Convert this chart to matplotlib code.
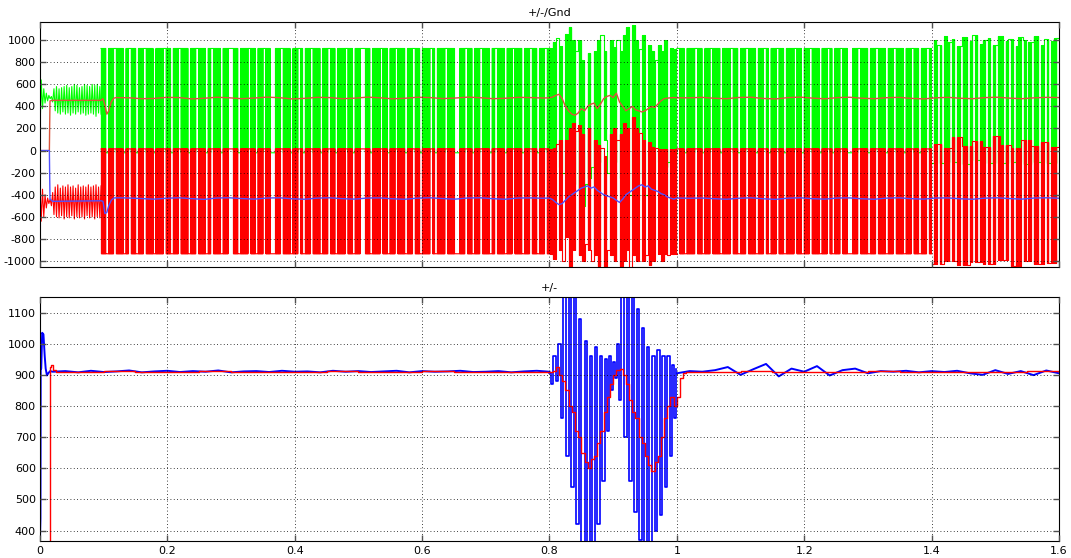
import numpy as np
import matplotlib
matplotlib.use('Agg')
import matplotlib.pyplot as plt

plt.rcParams['path.simplify'] = False
plt.rcParams['agg.path.chunksize'] = 20000
plt.rcParams['axes.unicode_minus'] = False

# ---------------- data ----------------
x_ticks = [0, 0.2, 0.4, 0.6, 0.8, 1.0, 1.2, 1.4, 1.6]
x_labels = ['0', '0.2', '0.4', '0.6', '0.8', '1', '1.2', '1.4', '1.6']
top_yticks = [-1000, -800, -600, -400, -200, 0, 200, 400, 600, 800, 1000]
bot_yticks = [400, 500, 600, 700, 800, 900, 1000, 1100]

# top panel, start-up (0 .. 0.096 s, one value every 2 ms)
start_green = [130, 640, 380, 560, 430, 520, 450, 500, 470, 490, 440, 560, 360, 580, 340, 560,
               330, 570, 350, 580, 330, 590, 340, 570, 320, 580, 340, 600, 330, 590, 350, 570,
               330, 580, 340, 600, 320, 590, 330, 580, 340, 600, 330, 590, 310, 600, 340, 580, 330]
start_red = [-300, -640, -350, -600, -400, -520, -430, -480, -440, -500, -380, -580, -330, -600,
             -310, -610, -340, -590, -320, -620, -330, -600, -310, -610, -330, -590, -320, -620,
             -340, -600, -310, -610, -330, -600, -320, -620, -330, -590, -310, -610, -330, -600,
             -320, -620, -310, -600, -330, -610, -320]

# switching pattern: '.' fast switching, 'g' held high, 'r' held low
pwm_a = ("..r..g...r.g..r..g.." ".r...g..r..g...r..g." "..r.g...r..gg..r...g"
         "..r..g..rr..g...r..g" ".r..g...r..g..r...g." ".r..gg..r...g..r..g."
         "..r..g..r...g.r...g." "..rr..g..r..g...r.g." "..r..g...r..g..r..g.")
pwm_b = ("g..r...g..r..g...r.." ".g..r..g...r..g.r..g" "..r...g..r..g...r..g"
         ".r..g..rr..g...r..g." "..r..g...r..g..r..g.")
pwm_c = "r.g.r..g.r.g..r.g.r..g.r.g..r.g.r..g.r.g..r.g.r..g"
pwm_chaos = "..g.r...g..r.r..g.r..g...r..g.r..g...r.."

# levels for each region
calm_g_hi, calm_g_lo, calm_r_hi, calm_r_lo = [925], [-20], [15], [-935]
chaos_g_hi = [930, 980, 1020, 950, 1100, 1060, 1120, 1000, 900, 1000, 820, 950, 880, 760, 900, 1000,
              1050, 900, 960, 1000, 940, 1000, 900, 1050, 1120, 1080, 1140, 1000, 920, 1050, 880, 960,
              900, 820, 960, 900, 1000, 950, 930, 920]
chaos_g_lo = [-20, -20, -80, -150, -200, -250, 0, -300, -400, -350, -500, -300, -250, -150, -300, -100,
              -50, 100, -200, -150, -100, -50, -250, -300, -350, -400, -300, -450, -350, -250, -400, -200,
              -200, -150, -100, -50, -150, -100, -50, -20]
chaos_r_hi = [15, 20, 60, 100, 150, 100, 200, 250, 180, 230, 150, 250, 200, 120, 100, 50,
              20, -50, 100, 150, 200, 100, 150, 250, 200, 150, 300, 200, 160, 100, 50, 80,
              30, 20, 15, 15, 15, 15, 15, 15]
chaos_r_lo = [-935, -980, -1040, -900, -1000, -780, -1050, -900, -1060, -950, -1000, -850,
              -900, -1000, -950, -1050, -940, -1060, -900, -950, -1000, -950, -1050, -1000,
              -900, -1060, -950, -1000, -1070, -1000, -950, -1040, -1000, -960, -935, -1000,
              -940, -950, -935, -935]
late_g_hi = [1000, 960, 1040, 980, 1010, 950, 1030, 990, 1050, 970, 1000, 1020, 960,
             1040, 990, 1010, 950, 1030, 1000, 980, 1040, 960, 1010, 990, 1020]
late_g_lo = [-110, -100, -120, -90, -110, -115, -100, -120, -105, -110]
late_r_hi = [60, 20, 120, 40, 90, 30, 130, 50, 20, 100, 40, 80, 30]
late_r_lo = [-1030, -1000, -1040, -1010, -1025, -990, -1045, -1005, -1030, -1015]

# averaged lines (top panel)
avg_t_start = [0, 0.0148, 0.0152, 0.0158, 0.02, 0.096, 0.099, 0.102, 0.105, 0.108, 0.112, 0.116]
avg_red_start = [0, 0, 200, 450, 455, 455, 470, 410, 330, 360, 440, 475]
avg_blue_start = [0, 0, -200, -440, -460, -455, -460, -570, -560, -500, -450, -430]
avg_red_calm = [480, 478, 470, 472, 482, 480, 468, 474, 483, 478, 470, 476, 484, 479, 468, 473, 482, 480,
                470, 475, 484, 478, 469, 474, 483, 480, 471, 476, 484, 479, 470, 474, 482, 480, 476]
avg_blue_calm = [-428, -430, -435, -440, -432, -428, -436, -442, -430, -428, -435, -440, -430, -428,
                 -437, -441, -431, -428, -436, -440, -430, -429, -437, -441, -431, -428, -435, -440,
                 -430, -428, -436, -441, -430, -429, -432]
avg_red_chaos = [478, 485, 500, 510, 470, 400, 360, 330, 320, 340, 380, 360, 400, 420, 430, 380,
                 420, 470, 490, 500, 480, 520, 440, 400, 360, 380, 400, 370, 360, 350, 360, 380,
                 400, 390, 420, 450, 470, 475, 478, 480, 478]
avg_blue_chaos = [-430, -445, -470, -490, -480, -450, -420, -400, -380, -360, -340, -330, -320, -340,
                  -330, -360, -380, -400, -410, -420, -430, -450, -470, -440, -400, -380, -360, -340,
                  -320, -310, -330, -320, -350, -360, -370, -390, -400, -420, -430, -440, -430]
avg_red_late = [478, 482, 474, 470, 481, 483, 472, 468, 480, 484, 475, 469, 480, 483, 474, 470,
                479, 482, 473, 468, 478, 482, 474, 470, 480, 483, 475, 470, 478, 482, 480]
avg_blue_late = [-432, -430, -436, -441, -432, -428, -437, -442, -431, -428, -436, -440, -430, -429,
                 -437, -441, -431, -428, -436, -440, -430, -429, -437, -441, -431, -428, -435, -440,
                 -430, -428, -432]

# bottom panel (+/-)
bot_blue_t_start = [0, 0.0008, 0.0012, 0.002, 0.0035, 0.0055, 0.0075, 0.009, 0.011, 0.013, 0.016]
bot_blue_start = [365, 440, 920, 920, 1035, 1030, 960, 920, 898, 905, 912]
bot_blue_calm = [910, 912, 908, 913, 909, 911, 914, 908, 911, 913, 909, 912, 910, 914, 908, 911, 912,
                 909, 913, 910, 911, 908, 913, 910, 912, 909, 911, 913, 908, 912, 910, 911, 913, 909,
                 910, 912, 908, 911, 913, 910]
bot_blue_chaos_t = [0.800, 0.803, 0.806, 0.810, 0.813, 0.818, 0.822, 0.826, 0.830, 0.834, 0.838, 0.842,
                    0.846, 0.850, 0.855, 0.859, 0.863, 0.867, 0.871, 0.875, 0.879, 0.883, 0.887, 0.891,
                    0.894, 0.897, 0.900, 0.903, 0.906, 0.909, 0.913, 0.917, 0.921, 0.925, 0.929, 0.933,
                    0.937, 0.941, 0.945, 0.949, 0.953, 0.957, 0.961, 0.965, 0.969, 0.973, 0.977, 0.981,
                    0.985, 0.989, 0.993, 0.996, 0.999]
bot_blue_chaos = [905, 870, 960, 880, 1000, 760, 1150, 640, 1170, 540, 1160, 420, 1080, 350, 1010, 330,
                  960, 360, 990, 420, 960, 560, 950, 720, 960, 850, 940, 890, 1000, 820, 1170, 700,
                  1170, 560, 1160, 460, 1110, 370, 1050, 330, 990, 350, 960, 400, 980, 450, 960, 540,
                  960, 640, 930, 760, 920]
bot_blue_late = [905, 912, 910, 915, 925, 900, 918, 935, 895, 920, 910, 928, 898, 915, 920, 905,
                 912, 910, 913, 908, 912, 909, 913, 905, 900, 915, 903, 912, 899, 914, 905]
bot_red_t_start = [0, 0.0155, 0.0158, 0.0175, 0.02, 0.025]
bot_red_start = [0, 0, 925, 930, 915, 910]
bot_red_calm = [910, 911, 910, 910, 911, 910, 909, 910, 911, 910, 910, 911, 910, 909, 910]
bot_red_chaos = [910, 912, 925, 900, 880, 850, 800, 780, 720, 700, 650, 620, 600, 630, 640, 680,
                 720, 780, 830, 870, 900, 915, 920, 900, 870, 820, 780, 760, 700, 680, 640, 610,
                 590, 620, 640, 700, 760, 800, 830, 800, 830, 890, 905, 910, 910]
bot_red_late = [910, 911, 910, 909, 910, 911, 910, 910, 909, 910, 911, 910]

GREEN, RED, BLUE = '#00ff00', '#ff0000', '#0000ff'
AVG_RED, AVG_BLUE = '#d9553c', '#5050ff'


def pwm(t0, t1, pattern, g_hi, g_lo, r_hi, r_lo):
    n = len(pattern)
    edges = np.linspace(t0, t1, n + 1)
    tt, gg, rr = [], [], []
    for i, ch in enumerate(pattern):
        lv = [lst[i * len(lst) // n] for lst in (g_hi, g_lo, r_hi, r_lo)]
        states = [1, 0] * 4 if ch == '.' else ([1] if ch == 'g' else [0])
        sub = np.linspace(edges[i], edges[i + 1], len(states) + 1)[:-1]
        for ts, s in zip(sub, states):
            tt.append(ts)
            gg.append(lv[0] if s else lv[1])
            rr.append(lv[2] if s else lv[3])
    tt.append(t1); gg.append(gg[-1]); rr.append(rr[-1])
    return np.array(tt), np.array(gg), np.array(rr)


fig = plt.figure(figsize=(10.71, 5.58), dpi=100, facecolor='white')
ax1 = fig.add_axes([0.0373, 0.5215, 0.9515, 0.4391])
ax2 = fig.add_axes([0.0373, 0.0296, 0.9515, 0.4382])

# ---- top panel ----
t_st = np.linspace(0, 0.096, len(start_green))
ax1.plot(t_st, start_green, color=GREEN, lw=0.8)
ax1.plot(t_st, start_red, color=RED, lw=0.8)

regions = [
    (0.096, 0.8, pwm_a, calm_g_hi, calm_g_lo, calm_r_hi, calm_r_lo),
    (0.8, 1.0, pwm_chaos, chaos_g_hi, chaos_g_lo, chaos_r_hi, chaos_r_lo),
    (1.0, 1.4, pwm_b, calm_g_hi, calm_g_lo, calm_r_hi, calm_r_lo),
    (1.4, 1.6, pwm_c, late_g_hi, late_g_lo, late_r_hi, late_r_lo),
]
pieces = [pwm(*r) for r in regions]
for tt, gg, rr in pieces:
    ax1.plot(tt, gg, color=GREEN, lw=0.8, drawstyle='steps-post')
for tt, gg, rr in pieces:
    ax1.plot(tt, rr, color=RED, lw=0.8, drawstyle='steps-post')

avg_t = np.concatenate([avg_t_start,
                        np.linspace(0.12, 0.79, len(avg_red_calm)),
                        np.linspace(0.8, 1.0, len(avg_red_chaos)),
                        np.linspace(1.02, 1.6, len(avg_red_late))])
ax1.plot(avg_t, avg_red_start + avg_red_calm + avg_red_chaos + avg_red_late,
         color=AVG_RED, lw=1.0)
ax1.plot(avg_t, avg_blue_start + avg_blue_calm + avg_blue_chaos + avg_blue_late,
         color=AVG_BLUE, lw=1.0)

# ---- bottom panel ----
ax2.plot(np.concatenate([bot_blue_t_start, np.linspace(0.02, 0.8, len(bot_blue_calm))]),
         bot_blue_start + bot_blue_calm, color=BLUE, lw=1.4)
ax2.plot(bot_blue_chaos_t, bot_blue_chaos, color=BLUE, lw=1.2, drawstyle='steps-post')
ax2.plot(np.linspace(1.0, 1.6, len(bot_blue_late)), bot_blue_late, color=BLUE, lw=1.4)
br_t = np.concatenate([bot_red_t_start,
                       np.linspace(0.05, 0.75, len(bot_red_calm)),
                       np.linspace(0.8, 1.02, len(bot_red_chaos)),
                       np.linspace(1.05, 1.6, len(bot_red_late))])
ax2.plot(br_t, bot_red_start + bot_red_calm + bot_red_chaos + bot_red_late,
         color=RED, lw=1.0, drawstyle='steps-post')

for ax, yt in ((ax1, top_yticks), (ax2, bot_yticks)):
    ax.set_xlim(0, 1.6)
    ax.set_xticks(x_ticks)
    ax.set_yticks(yt)
    ax.set_axisbelow(False)
    ax.grid(True, linestyle=(0, (1, 3)), color='k', linewidth=0.6)
    ax.tick_params(direction='in', top=True, right=True, length=4, width=1.0,
                   color='#505050', labelsize=8, pad=3)
    for sp in ax.spines.values():
        sp.set_linewidth(0.8)

ax1.set_ylim(-1055, 1165)
ax1.tick_params(labelbottom=False)
ax1.set_title('+/-/Gnd', fontsize=8, pad=4)
ax2.set_ylim(365, 1150)
ax2.set_xticklabels(x_labels)
ax2.set_title('+/-', fontsize=8, pad=4)

fig.savefig('out.png', dpi=100)
